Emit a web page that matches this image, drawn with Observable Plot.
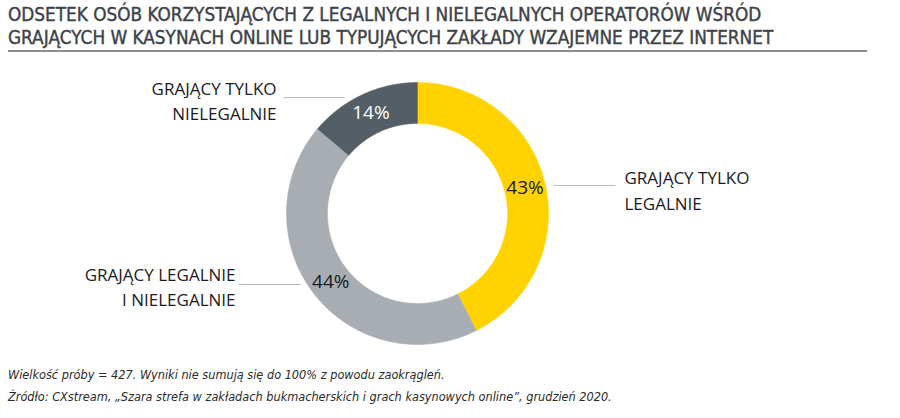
<!DOCTYPE html>
<html>
<head>
<meta charset="utf-8">
<script src="https://cdn.jsdelivr.net/npm/d3@7"></script>
<script src="https://cdn.jsdelivr.net/npm/@observablehq/plot@0.6"></script>
<style>
  body { margin: 0; background: #fff; width: 900px; height: 418px; position: relative; overflow: hidden; }
  #title { position: absolute; left: 8px; top: 3px; width: 859px; font-family: "DejaVu Sans Condensed", sans-serif; font-size: 18.8px; line-height: 23px; color: #3c4249; -webkit-text-stroke: 0.4px #3c4249; border-bottom: 2px solid #8a8d91; padding-bottom: 1px; }
  #chart { position: absolute; left: 0; top: 60px; }
  #notes { position: absolute; left: 8px; top: 364px; font-family: "DejaVu Sans Condensed", sans-serif; font-style: italic; font-size: 12.6px; line-height: 22px; color: #2a2a2a; }
</style>
</head>
<body>
<div id="title">ODSETEK OSÓB KORZYSTAJĄCYCH Z LEGALNYCH I NIELEGALNYCH OPERATORÓW WŚRÓD<br>GRAJĄCYCH W KASYNACH ONLINE LUB TYPUJĄCYCH ZAKŁADY WZAJEMNE PRZEZ INTERNET</div>
<div id="chart"></div>
<div id="notes">Wielkość próby = 427. Wyniki nie sumują się do 100% z powodu zaokrągleń.<br>Źródło: CXstream, „Szara strefa w zakładach bukmacherskich i grach kasynowych online”, grudzień 2020.</div>
<script>
// Data
const categories = ["GRAJĄCY TYLKO\nLEGALNIE", "GRAJĄCY LEGALNIE\nI NIELEGALNIE", "GRAJĄCY TYLKO\nNIELEGALNIE"];
const values = [43, 44, 14];
const colors = ["#ffd200", "#a7adb3", "#545e66"];
const labelColors = ["#1b1b25", "#1b1b25", "#ffffff"];

// Layout for outside labels (in ring-radius units, relative to centre)
const labelLayout = [
  {side: "right", y: 0.214, x1: 1.038, x2: 1.511, tx: 1.58, ty: 0.19},
  {side: "left",  y: -0.542, x1: -0.893, x2: -1.366, tx: -1.389, ty: -0.55},
  {side: "left",  y: 0.885, x1: -0.557, x2: -1.023, tx: -1.076, ty: 0.87}
];

const outer = 1, inner = 90 / 131, mid = (outer + inner) / 2;
const pie = d3.pie().sort(null).value(d => d)(values);

// Build ring polygons in unit space
const poly = [];
pie.forEach((p, i) => {
  const n = 120;
  for (let k = 0; k <= n; k++) {
    const a = p.startAngle + (p.endAngle - p.startAngle) * k / n;
    poly.push({cat: categories[i], x: outer * Math.sin(a), y: outer * Math.cos(a)});
  }
  for (let k = n; k >= 0; k--) {
    const a = p.startAngle + (p.endAngle - p.startAngle) * k / n;
    poly.push({cat: categories[i], x: inner * Math.sin(a), y: inner * Math.cos(a)});
  }
});

const pct = pie.map((p, i) => {
  const a = (p.startAngle + p.endAngle) / 2;
  return {label: values[i] + "%", x: mid * Math.sin(a), y: mid * Math.cos(a), color: labelColors[i]};
});

const leaders = labelLayout.map((l, i) => ({...l, cat: categories[i]}));

const cx = 417, cy = 153, R = 131;
const chart = Plot.plot({
  width: 900,
  height: 300,
  margin: 0,
  x: {domain: [-1, 1], range: [cx - R, cx + R], axis: null},
  y: {domain: [-1, 1], range: [cy + R, cy - R], axis: null},
  color: {domain: categories, range: colors},
  style: {background: "transparent"},
  marks: [
    Plot.line(poly, {x: "x", y: "y", z: "cat", fill: "cat", stroke: "cat", strokeWidth: 0.5, curve: "linear"}),
    Plot.text(pct, {x: "x", y: "y", text: "label", fill: "color", fontSize: 19, fontFamily: "Open Sans", fontWeight: 400}),
    Plot.link(leaders, {x1: "x1", x2: "x2", y1: "y", y2: "y", stroke: "#b9bcbf", strokeWidth: 1}),
    Plot.text(leaders.filter(d => d.side === "left"), {x: "tx", y: "ty", text: "cat", textAnchor: "end", lineHeight: 1.5, fontSize: 17, fontFamily: "Open Sans", fill: "#1b1b25"}),
    Plot.text(leaders.filter(d => d.side === "right"), {x: "tx", y: "ty", text: "cat", textAnchor: "start", lineHeight: 1.5, fontSize: 17, fontFamily: "Open Sans", fill: "#1b1b25"})
  ]
});
document.getElementById("chart").appendChild(chart);
</script>
</body>
</html>
